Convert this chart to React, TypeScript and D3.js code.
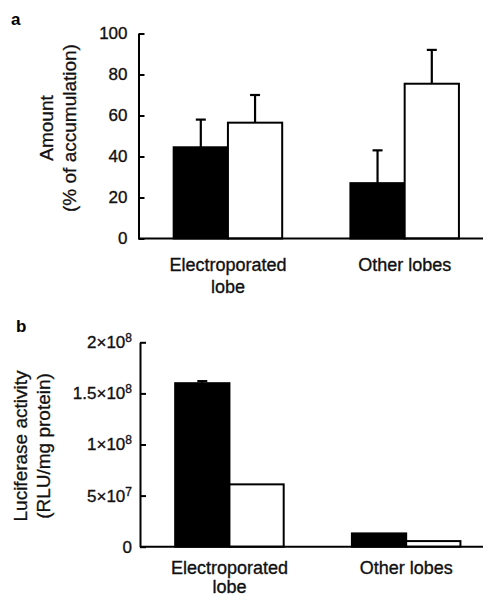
import React, { useRef, useEffect } from "react";
import * as d3 from "d3";

// categories and series
const categories = ["Electroporated lobe", "Other lobes"];
const categoryLines = [["Electroporated", "lobe"], ["Other lobes"]];
const seriesKeys = ["filled", "open"];
const seriesFill = ["#000", "#fff"];

// panel a: amount (% of accumulation)
const amountFilled = [44.5, 27];
const amountFilledErr = [13.5, 16];
const amountOpen = [56.5, 75.5];
const amountOpenErr = [13.5, 16.5];
const amountTicks = [0, 20, 40, 60, 80, 100];
const amountTickLabels = [["0"], ["20"], ["40"], ["60"], ["80"], ["100"]];

// panel b: luciferase activity (RLU/mg protein)
const lucFilled = [1.6e8, 1.3e7];
const lucFilledErr = [2e6, 0];
const lucOpen = [6.1e7, 5.5e6];
const lucOpenErr = [0, 0];
const lucTicks = [0, 5e7, 1e8, 1.5e8, 2e8];
const lucTickLabels = [["0"], ["5×10", "7"], ["1×10", "8"], ["1.5×10", "8"], ["2×10", "8"]];

const W = 483;
const H = 596;
const FONT = "'Liberation Sans', Arial, Helvetica, sans-serif";
const INK = "#111";

function Panel({ letter, letterPos, axisX, y0, y1, yMax, ticks, tickLabels, tickPad, values, errors, titles, titleX, titleY, labelY, labelGap }) {
  const gRef = useRef(null);

  useEffect(() => {
    const g = d3.select(gRef.current);
    g.selectAll("*").remove();

    const x = d3
      .scaleBand()
      .domain(categories)
      .range([axisX, axisX + 355.6])
      .paddingInner(0.386)
      .paddingOuter(0.199);
    const xs = d3.scaleBand().domain(seriesKeys).range([0, x.bandwidth()]);
    const y = d3.scaleLinear().domain([0, yMax]).range([y0, y1]);

    const rows = categories.flatMap((c, i) =>
      seriesKeys.map((k, j) => ({ c, k, j, v: values[j][i], e: errors[j][i] }))
    );

    // error bars (upper only)
    const eb = g.append("g").attr("stroke", "#000").attr("stroke-width", 2.2);
    rows
      .filter((d) => d.e > 0)
      .forEach((d) => {
        const cx = x(d.c) + xs(d.k) + xs.bandwidth() / 2;
        eb.append("line").attr("x1", cx).attr("x2", cx).attr("y1", y(d.v)).attr("y2", y(d.v + d.e));
        eb.append("line").attr("x1", cx - 5).attr("x2", cx + 5).attr("y1", y(d.v + d.e)).attr("y2", y(d.v + d.e));
      });

    // bars
    g.append("g")
      .selectAll("rect")
      .data(rows)
      .join("rect")
      .attr("x", (d) => x(d.c) + xs(d.k))
      .attr("y", (d) => y(d.v))
      .attr("width", xs.bandwidth())
      .attr("height", (d) => y0 - y(d.v))
      .attr("fill", (d) => seriesFill[d.j])
      .attr("stroke", "#000")
      .attr("stroke-width", 2);

    // baseline
    g.append("line")
      .attr("x1", axisX)
      .attr("x2", W)
      .attr("y1", y0)
      .attr("y2", y0)
      .attr("stroke", "#000")
      .attr("stroke-width", 2);

    // y axis, ticks pointing inward
    const ax = g
      .append("g")
      .attr("transform", `translate(${axisX},0)`)
      .call(d3.axisLeft(y).tickValues(ticks).tickSize(-6).tickSizeOuter(0).tickPadding(tickPad));
    ax.attr("font-family", FONT).attr("font-size", 17);
    ax.select(".domain").attr("stroke", "#000").attr("stroke-width", 2);
    ax.selectAll(".tick line").attr("stroke", "#000").attr("stroke-width", 2);
    ax.selectAll(".tick text")
      .attr("fill", INK)
      .attr("stroke", INK)
      .attr("stroke-width", 0.35)
      .each(function (d, i) {
        const t = d3.select(this);
        const lab = tickLabels[i];
        t.text(null);
        t.append("tspan").text(lab[0]);
        if (lab[1]) t.append("tspan").attr("dy", "-0.5em").attr("font-size", 12).text(lab[1]);
      });

    // category labels
    categories.forEach((c, i) => {
      const cx = x(c) + x.bandwidth() / 2;
      categoryLines[i].forEach((line, li) => {
        g.append("text")
          .attr("x", cx)
          .attr("y", labelY + li * labelGap)
          .attr("text-anchor", "middle")
          .attr("font-family", FONT)
          .attr("font-size", 18)
          .attr("fill", INK)
          .attr("stroke", INK)
          .attr("stroke-width", 0.35)
          .text(line);
      });
    });

    // y title
    titles.forEach((t, i) => {
      g.append("text")
        .attr("transform", "rotate(-90)")
        .attr("x", -titleY)
        .attr("y", titleX[i])
        .attr("text-anchor", "middle")
        .attr("font-family", FONT)
        .attr("font-size", 19)
        .attr("fill", INK)
        .attr("stroke", INK)
        .attr("stroke-width", 0.3)
        .text(t);
    });

    // panel letter
    g.append("text")
      .attr("x", letterPos[0])
      .attr("y", letterPos[1])
      .attr("font-family", FONT)
      .attr("font-weight", "bold")
      .attr("font-size", 17)
      .attr("fill", "#000")
      .text(letter);
  }, []);

  return <g ref={gRef}></g>;
}

export default function App() {
  return (
    <div style={{ position: "absolute", left: 0, top: 0 }}>
      <svg width={W} height={H} style={{ display: "block", background: "#fff" }}>
        <Panel
          letter="a"
          letterPos={[11, 25]}
          axisX={138.5}
          y0={238.5}
          y1={33.5}
          yMax={100}
          ticks={amountTicks}
          tickLabels={amountTickLabels}
          tickPad={11}
          values={[amountFilled, amountOpen]}
          errors={[amountFilledErr, amountOpenErr]}
          titles={["Amount", "(% of accumulation)"]}
          titleX={[53, 75.5]}
          titleY={128}
          labelY={271}
          labelGap={21.5}
        />
        <Panel
          letter="b"
          letterPos={[16, 332]}
          axisX={140}
          y0={546.7}
          y1={342.3}
          yMax={2e8}
          ticks={lucTicks}
          tickLabels={lucTickLabels}
          tickPad={8}
          values={[lucFilled, lucOpen]}
          errors={[lucFilledErr, lucOpenErr]}
          titles={["Luciferase activity", "(RLU/mg protein)"]}
          titleX={[27, 49.5]}
          titleY={446}
          labelY={573.5}
          labelGap={19}
        />
      </svg>
    </div>
  );
}
